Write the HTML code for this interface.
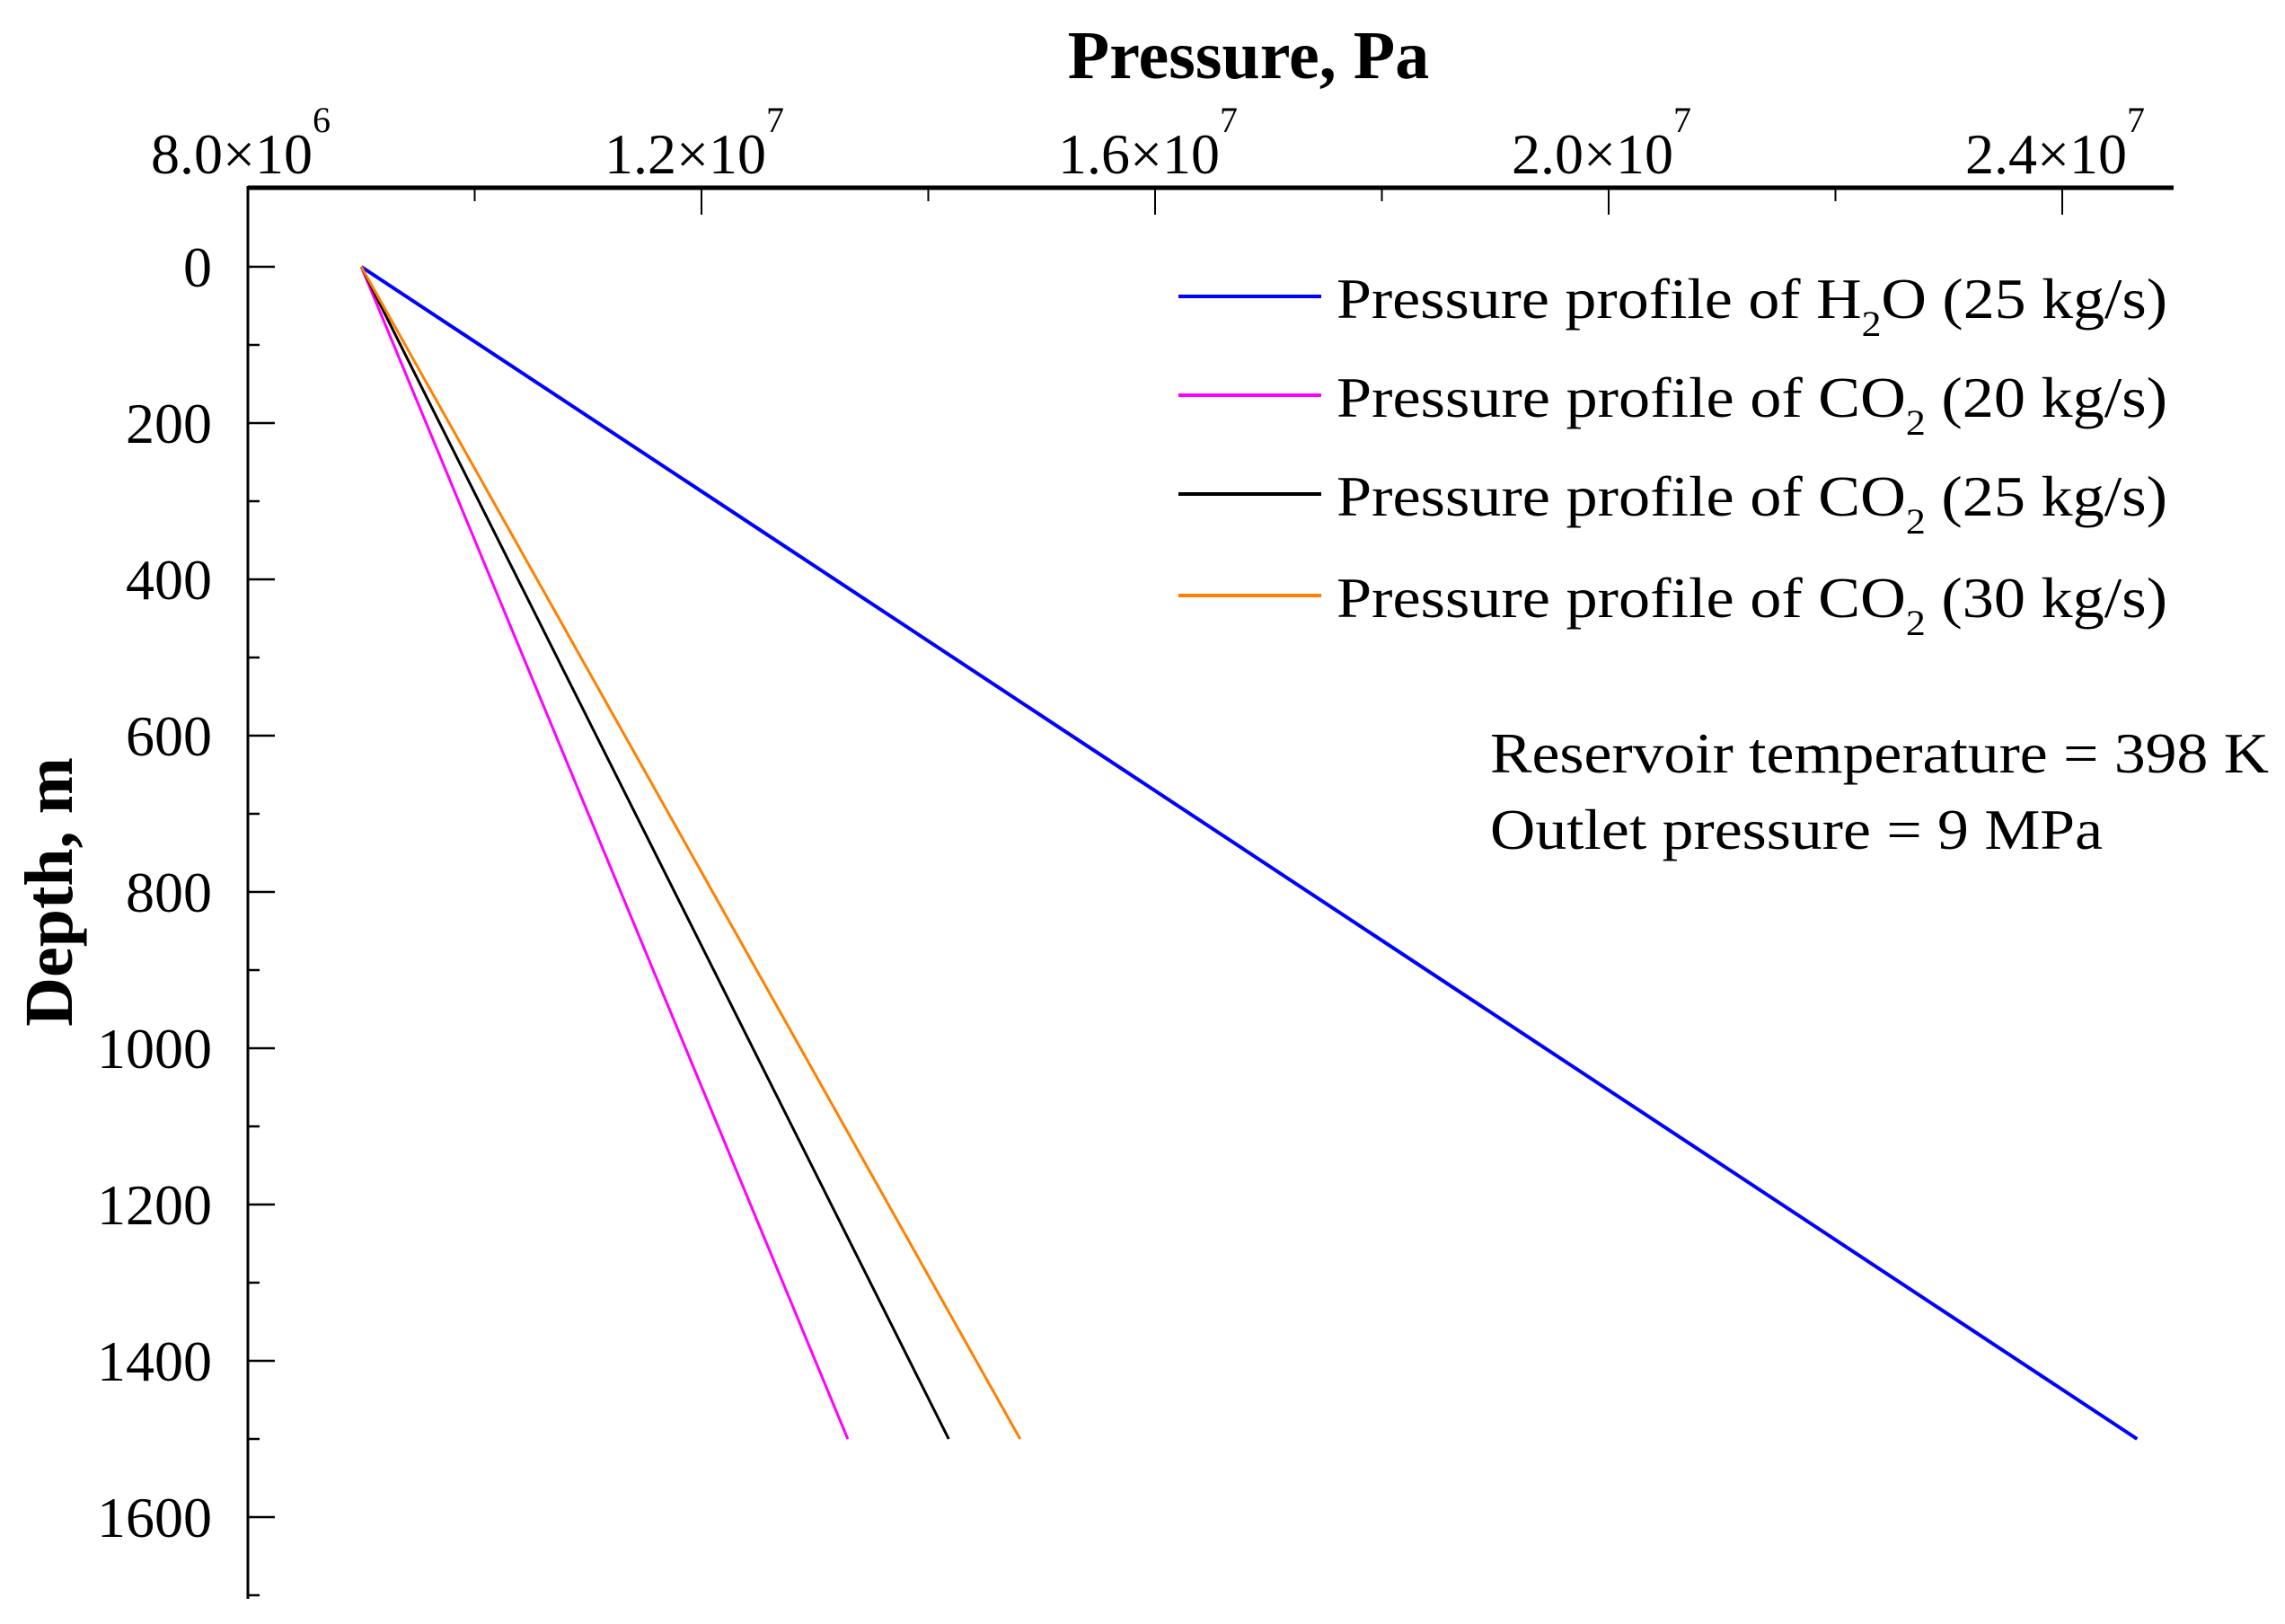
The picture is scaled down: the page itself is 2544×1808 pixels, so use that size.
<!DOCTYPE html>
<html><head><meta charset="utf-8"><style>html,body{margin:0;padding:0;background:#fff}svg{display:block}text{font-family:"Liberation Serif",serif;fill:#000}</style></head>
<body>
<svg id="chart" width="2544" height="1808" viewBox="0 0 2544 1808" xmlns="http://www.w3.org/2000/svg">
<g id="axes"></g><g id="series"></g><g id="legend"></g>
<text x="1390" y="87" font-size="76" font-weight="bold" text-anchor="middle">Pressure, Pa</text>
<text transform="translate(80,993) rotate(-90)" font-size="76" font-weight="bold" text-anchor="middle">Depth, m</text>
<text x="1659" y="860" font-size="64" textLength="867" lengthAdjust="spacingAndGlyphs">Reservoir temperature = 398 K</text>
<text x="1659" y="945" font-size="64" textLength="682" lengthAdjust="spacingAndGlyphs">Outlet pressure = 9 MPa</text>
</svg>
<script>
const xTicks=[8e6,1.2e7,1.6e7,2.0e7,2.4e7];
const xTickMant=["8.0","1.2","1.6","2.0","2.4"];
const xTickExp=["6","7","7","7","7"];
const yTicks=[0,200,400,600,800,1000,1200,1400,1600];
const depths=[0,1500];
const h2o25=[9.0e6,24.66e6];
const co2_20=[9.0e6,13.29e6];
const co2_25=[9.0e6,14.18e6];
const co2_30=[9.0e6,14.81e6];
const seriesNames=["Pressure profile of H2O (25 kg/s)","Pressure profile of CO2 (20 kg/s)","Pressure profile of CO2 (25 kg/s)","Pressure profile of CO2 (30 kg/s)"];

const NS="http://www.w3.org/2000/svg";
const X=p=>276+(p-8e6)/4e6*505;
const Y=d=>297+d*(174/200);
function mk(tag,attrs,parent){const e=document.createElementNS(NS,tag);for(const k in attrs)e.setAttribute(k,attrs[k]);parent.appendChild(e);return e;}
const axes=document.getElementById('axes');
let e=mk('line',{x1:276,y1:209,x2:2420,y2:209,stroke:'#000','stroke-width':5},axes);


e=mk('line',{x1:276,y1:207,x2:276,y2:1780,stroke:'#000','stroke-width':3},axes);


for(let p=8e6;p<=2.6e7;p+=2e6){const x=X(p);if(x>2420)break;const major=Math.round(p/2e6)%2===0;
 e=mk('line',{x1:x,y1:209,x2:x,y2:major?239:224,stroke:'#000','stroke-width':2},axes);
 
 }
xTicks.forEach((v,i)=>{const t=mk('text',{x:X(v)-8,y:193,'font-size':64,'text-anchor':'middle'},axes);
 t.textContent=xTickMant[i]+"\u00d710";
 const s=mk('tspan',{dy:-46,'font-size':40},t);s.textContent=xTickExp[i];
 
 });
for(let d=-100;d<=1700;d+=100){const y=Y(d);if(y<212||y>1780)continue;const major=d%200===0;
 e=mk('line',{x1:276,y1:y,x2:major?306:289,y2:y,stroke:'#000','stroke-width':2.5},axes);
 
 }
yTicks.forEach(v=>{const t=mk('text',{x:236,y:Y(v)+22,'font-size':64,'text-anchor':'end'},axes);t.textContent=v;
 
 });
const ser=document.getElementById('series');
const data=[[h2o25,'#0000ff',4],[co2_20,'#ff00ff',3],[co2_25,'#000000',3],[co2_30,'#ff8000',3]];
const sNames=['series-h2o-25','series-co2-20','series-co2-25','series-co2-30'];
data.forEach((s,i)=>{const pts=s[0].map((p,j)=>X(p)+','+Y(depths[j])).join(' ');
 const l=mk('polyline',{points:pts,fill:'none',stroke:s[1],'stroke-width':s[2]},ser);
 
 });
const leg=document.getElementById('legend');
const legY=[330,440,550,663];
const chem=[["H","O"],["CO",""],["CO",""],["CO",""]];
const rates=["(25 kg/s)","(20 kg/s)","(25 kg/s)","(30 kg/s)"];
data.forEach((s,i)=>{const y=legY[i];
 const l=mk('line',{x1:1312,y1:y,x2:1471,y2:y,stroke:s[1],'stroke-width':4},leg);
 
 
 const t=mk('text',{x:1488,y:y+24,'font-size':64,textLength:925,lengthAdjust:'spacingAndGlyphs'},leg);
 
 
 const a=mk('tspan',{},t);a.textContent="Pressure profile of "+chem[i][0];
 const b=mk('tspan',{dy:20,'font-size':40},t);b.textContent="2";
 const c=mk('tspan',{dy:-20},t);c.textContent=chem[i][1]+" "+rates[i];});
</script>
</body></html>
